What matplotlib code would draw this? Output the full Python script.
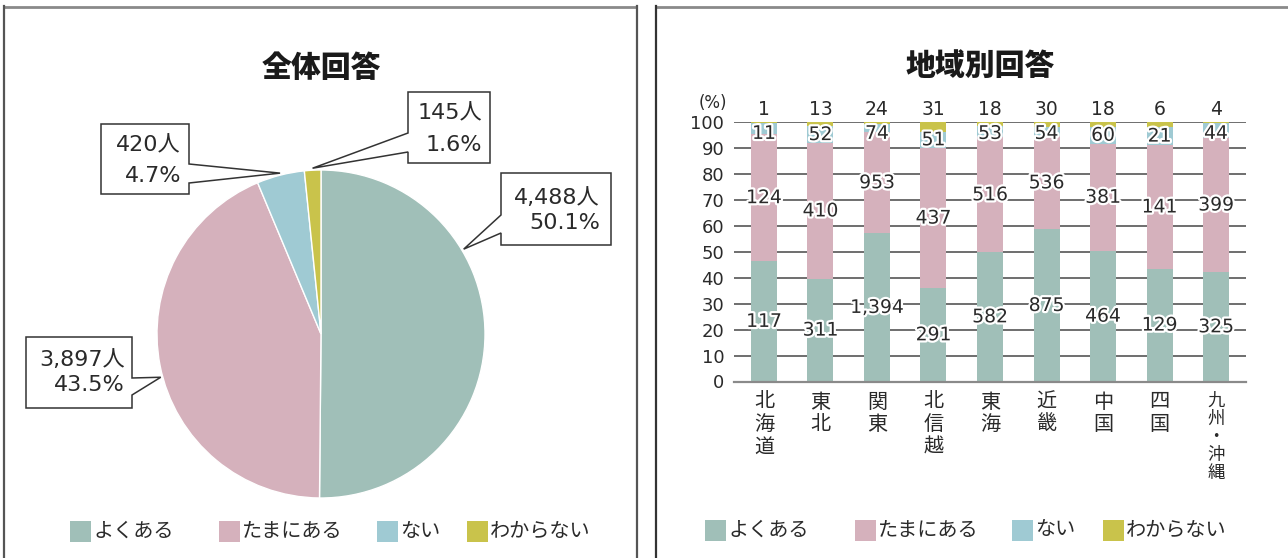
import matplotlib
matplotlib.use('Agg')
import matplotlib.pyplot as plt
import numpy as np
from matplotlib.patches import Polygon, Rectangle
from matplotlib import patheffects as pe
from matplotlib import transforms

plt.rcParams['font.family'] = ['DejaVu Sans', 'Noto Sans CJK JP']
JP = ['Noto Sans CJK JP', 'DejaVu Sans']

# ---------------- data ----------------
categories = ['よくある', 'たまにある', 'ない', 'わからない']
colors = ['#A0BFB8', '#D5B1BC', '#9FCAD3', '#C9C34B']

total_counts = [4488, 3897, 420, 145]
total_pct = [50.1, 43.5, 4.7, 1.6]

regions = ['北海道', '東北', '関東', '北信越', '東海', '近畿', '中国', '四国', '九州・沖縄']
often = [117, 311, 1394, 291, 582, 875, 464, 129, 325]
sometimes = [124, 410, 953, 437, 516, 536, 381, 141, 399]
never = [11, 52, 74, 51, 53, 54, 60, 21, 44]
unknown = [1, 13, 24, 31, 18, 30, 18, 6, 4]
yticks = [0, 10, 20, 30, 40, 50, 60, 70, 80, 90, 100]

W, H = 1288, 558
fig = plt.figure(figsize=(W / 100, H / 100), dpi=100)


def fig_rect(x0, y0, x1, y1):
    return [x0 / W, 1 - y1 / H, (x1 - x0) / W, (y1 - y0) / H]


# ---------------- pie ----------------
PX0, PY0, PX1, PY1 = 157, 170, 485, 498
axp = fig.add_axes(fig_rect(PX0, PY0, PX1, PY1))
axp.pie(total_counts, colors=colors, startangle=90, counterclock=False,
        wedgeprops=dict(edgecolor='white', linewidth=1))
axp.set_xlim(-1, 1)
axp.set_ylim(-1, 1)
axp.set_aspect('equal')
axp.axis('off')

# ---------------- stacked bars ----------------
axb = fig.add_axes(fig_rect(734, 121.7, 1246, 381.5))
M = np.array([often, sometimes, never, unknown], dtype=float)
pct = M / M.sum(axis=0) * 100
x = np.arange(len(regions))
bottom = np.zeros(len(regions))
stroke = [pe.withStroke(linewidth=3.2, foreground='white')]
for i in range(len(categories)):
    axb.bar(x, pct[i], 0.46, bottom=bottom, color=colors[i], zorder=2,
            linewidth=0)
    if i < 3:
        for xi, b, h, c in zip(x, bottom, pct[i], M[i]):
            yl = b + h / 2
            if i == 2:
                yl = min(yl, 95.5)
            axb.text(xi, yl, f'{int(c):,}', ha='center', va='center',
                     fontsize=13.5, color='#2a2a2a', zorder=4,
                     path_effects=stroke)
    bottom += pct[i]
for xi, c in zip(x, unknown):
    axb.text(xi, 104.8, f'{c:,}', ha='center', va='center', fontsize=13.5,
             color='#2a2a2a', clip_on=False)

axb.set_xlim(-0.53, len(regions) - 1 + 0.53)
axb.set_ylim(0, 100)
axb.set_yticks(yticks)
axb.set_xticks([])
axb.yaxis.grid(True, color='#555555', linewidth=1.2)
axb.set_axisbelow(True)
for s in ['left', 'right', 'top']:
    axb.spines[s].set_visible(False)
axb.spines['bottom'].set_color('#8a8a8a')
axb.spines['bottom'].set_linewidth(1.6)
axb.spines['bottom'].set_zorder(3)
axb.tick_params(axis='y', length=0, labelsize=13, pad=7, colors='#2a2a2a')

# ---------------- overlay (pixel coords) ----------------
ov = fig.add_axes([0, 0, 1, 1])
ov.set_xlim(0, W)
ov.set_ylim(H, 0)
ov.axis('off')

# panel frames
ov.plot([4.5, 637], [6.5, 6.5], color='#8a8a8a', lw=2, solid_capstyle='butt')
ov.plot([4.5, 4.5], [6, H], color='#555555', lw=1.6)
ov.plot([637, 637], [6, H], color='#555555', lw=1.6)
ov.plot([656.5, W], [6.5, 6.5], color='#8a8a8a', lw=2, solid_capstyle='butt')
ov.plot([656.5, 656.5], [6, H], color='#333333', lw=1.6)

# titles
ov.text(321, 68, '全体回答', ha='center', va='center', fontsize=21.5,
        fontweight='heavy', family=JP, color='#1a1a1a')
ov.text(980, 65, '地域別回答', ha='center', va='center', fontsize=21.5,
        fontweight='heavy', family=JP, color='#1a1a1a')

# pie callouts
cx, cy, R = (PX0 + PX1) / 2, (PY0 + PY1) / 2, (PX1 - PX0) / 2
fr = np.array(total_counts, dtype=float) / sum(total_counts)
cum = np.concatenate([[0], np.cumsum(fr)[:-1]])
mid = 90 - 360 * (cum + fr / 2)
angle_offset = [31, 4, 0, 0]
# box: x0, y0, x1, y1, notch side, notch upper y, notch lower y, text right x, text ys
boxes = [
    (501, 173, 611, 245, 'left', 215, 233, 600, (198, 223)),
    (26, 337, 132, 408, 'right', 378, 395, 125, (360, 385)),
    (101, 124, 189, 194, 'right', 164, 183, 181, (145, 176)),
    (408, 92, 490, 163, 'left', 133, 152, 482, (113, 145)),
]
for i, bx in enumerate(boxes):
    x0, y0, x1, y1, side, na, nb, tx_r, tys = bx
    a = np.deg2rad(mid[i] + angle_offset[i])
    tx, ty = cx + (R + 2) * np.cos(a), cy - (R + 2) * np.sin(a)
    if side == 'left':
        verts = [(x0, y0), (x1, y0), (x1, y1), (x0, y1), (x0, nb), (tx, ty), (x0, na)]
    else:
        verts = [(x0, y0), (x1, y0), (x1, na), (tx, ty), (x1, nb), (x1, y1), (x0, y1)]
    ov.add_patch(Polygon(verts, closed=True, facecolor='white',
                         edgecolor='#333333', linewidth=1.1, zorder=5))
    ov.text(tx_r, tys[0], f'{total_counts[i]:,}人', ha='right', va='center',
            fontsize=16, color='#2a2a2a', zorder=6)
    ov.text(tx_r, tys[1], f'{total_pct[i]}%', ha='right', va='center',
            fontsize=16, color='#2a2a2a', zorder=6)

# (%) label
ov.text(727, 103.5, '(%)', ha='right', va='center', fontsize=12,
        color='#2a2a2a')

# vertical category labels
blend = transforms.blended_transform_factory(axb.transData, ov.transData)
for xi, name in zip(x, regions):
    chars = list(name)
    if len(chars) > 3:
        ys = [401 + 18 * k for k in range(len(chars))]
        fs = 12.5
    else:
        ys = [402 + 22.7 * k for k in range(len(chars))]
        fs = 14.5
    for ch, yy in zip(chars, ys):
        ov.text(xi, yy, ch, transform=blend, ha='center', va='center',
                fontsize=fs, family=JP, color='#2a2a2a')

# legends
def legend_row(xs, yc):
    for xx, lab, col in zip(xs, categories, colors):
        ov.add_patch(Rectangle((xx, yc - 10.5), 21, 21, facecolor=col,
                               edgecolor='none'))
        ov.text(xx + 23, yc, lab, ha='left', va='center', fontsize=14.5,
                family=JP, color='#2a2a2a')

legend_row([70, 219, 377, 467], 531)
legend_row([705, 855, 1012, 1103], 530)

fig.savefig('out.png', dpi=100)
